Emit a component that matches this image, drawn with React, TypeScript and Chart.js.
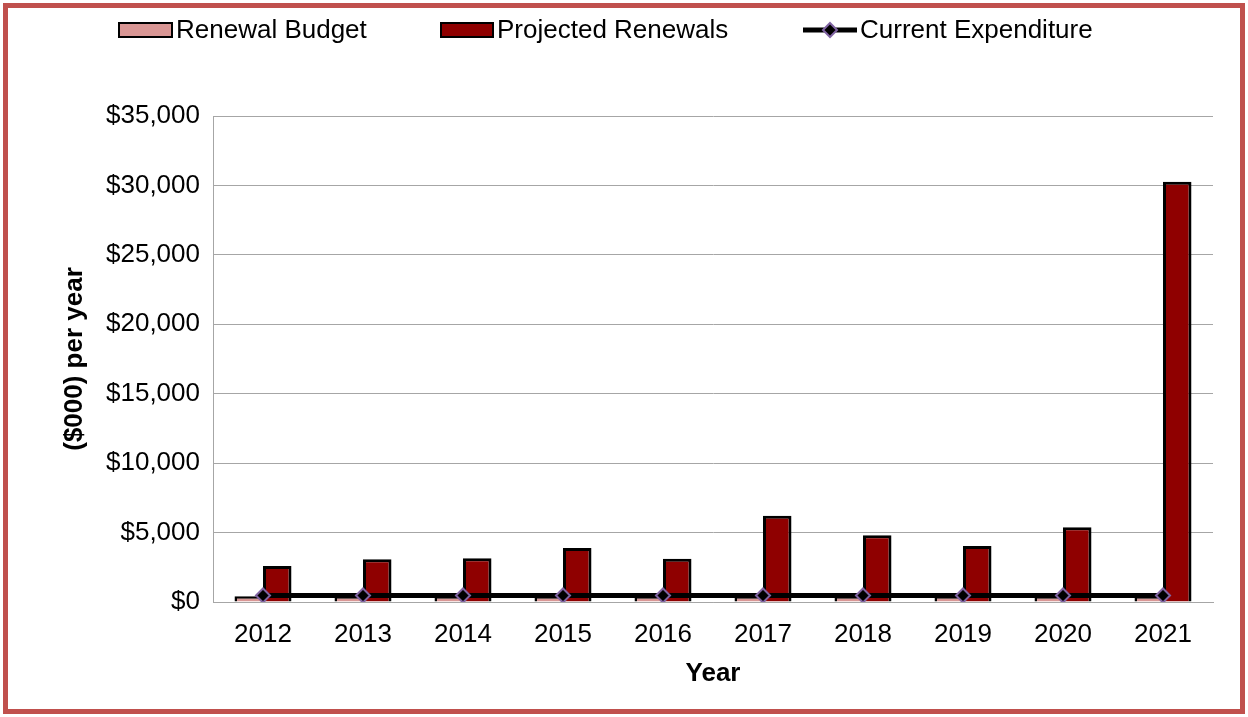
import React, { useEffect, useRef } from "react";
import { Chart, registerables } from "chart.js";

Chart.register(...registerables);

const years = ["2012", "2013", "2014", "2015", "2016", "2017", "2018", "2019", "2020", "2021"];
const renewalBudget = [420, 420, 420, 420, 420, 420, 420, 420, 420, 420];
const projectedRenewals = [2600, 3080, 3150, 3890, 3120, 6220, 4800, 4030, 5380, 30270];
const currentExpenditure = [470, 470, 470, 470, 470, 470, 470, 470, 470, 470];
const yMax = 35000;
const yStep = 5000;

const legendLabels = ["Renewal Budget", "Projected Renewals", "Current Expenditure"];

const FONT = "'Liberation Sans', Arial, sans-serif";
const PINK = "#D99694";
const DARK_RED = "#8F0000";
const PURPLE = "#8064A2";
const GRID = "#A6A6A6";

const framePlugin = {
  id: "frame",
  beforeDraw(chart: any) {
    const ctx = chart.ctx;
    ctx.save();
    ctx.fillStyle = "#ffffff";
    ctx.fillRect(0, 0, chart.width, chart.height);
    ctx.restore();
  },
  afterDraw(chart: any) {
    const ctx = chart.ctx;
    ctx.save();
    ctx.strokeStyle = "#C0504D";
    ctx.lineWidth = 5;
    ctx.strokeRect(5.5, 5.5, chart.width - 11, chart.height - 11);

    // legend
    ctx.font = `26px ${FONT}`;
    ctx.textBaseline = "middle";
    ctx.fillStyle = "#000";
    const ly = 31;
    // item 1
    ctx.fillStyle = PINK;
    ctx.fillRect(119, 23, 53, 14);
    ctx.strokeStyle = "#000";
    ctx.lineWidth = 2;
    ctx.strokeRect(119, 23, 53, 14);
    ctx.fillStyle = "#000";
    ctx.fillText(legendLabels[0], 176, ly);
    // item 2
    ctx.fillStyle = DARK_RED;
    ctx.fillRect(441, 23, 52, 14);
    ctx.strokeRect(441, 23, 52, 14);
    ctx.fillStyle = "#000";
    ctx.fillText(legendLabels[1], 497, ly);
    // item 3
    const my = 30;
    ctx.beginPath();
    ctx.lineWidth = 5;
    ctx.moveTo(803, my);
    ctx.lineTo(857, my);
    ctx.stroke();
    ctx.beginPath();
    ctx.moveTo(830, my - 7);
    ctx.lineTo(837, my);
    ctx.lineTo(830, my + 7);
    ctx.lineTo(823, my);
    ctx.closePath();
    ctx.fillStyle = "#000";
    ctx.fill();
    ctx.lineWidth = 2;
    ctx.strokeStyle = PURPLE;
    ctx.stroke();
    ctx.fillStyle = "#000";
    ctx.fillText(legendLabels[2], 860, ly);
    ctx.restore();
  },
};

export default function App() {
  const ref = useRef<HTMLCanvasElement | null>(null);

  useEffect(() => {
    if (!ref.current) return;
    const chart = new Chart(ref.current, {
      type: "bar",
      data: {
        labels: years,
        datasets: [
          {
            type: "line",
            label: legendLabels[2],
            data: currentExpenditure,
            borderColor: "#000",
            borderWidth: 5,
            pointStyle: "rectRot",
            pointRadius: 7,
            pointBackgroundColor: "#000",
            pointBorderColor: PURPLE,
            pointBorderWidth: 2,
            order: 0,
          } as any,
          {
            type: "bar",
            label: legendLabels[0],
            data: renewalBudget,
            backgroundColor: PINK,
            borderColor: "#000",
            borderWidth: 2.5,
            order: 1,
          },
          {
            type: "bar",
            label: legendLabels[1],
            data: projectedRenewals,
            backgroundColor: DARK_RED,
            borderColor: "#000",
            borderWidth: 3,
            order: 1,
          },
        ],
      },
      options: {
        animation: false,
        responsive: false,
        maintainAspectRatio: false,
        layout: { padding: { left: 0, right: 35, top: 116, bottom: 0 } },
        datasets: {
          bar: { categoryPercentage: 0.57, barPercentage: 1.0, grouped: true },
        },
        plugins: {
          legend: { display: false },
          tooltip: { enabled: false },
        },
        scales: {
          x: {
            grid: { display: false, drawTicks: false },
            border: { display: true, color: GRID, width: 1 },
            ticks: {
              color: "#000",
              font: { family: FONT, size: 26 },
              padding: 17,
              maxRotation: 0,
            },
            title: {
              display: true,
              text: "Year",
              color: "#000",
              font: { family: FONT, size: 26, weight: "bold" },
              padding: { top: 0, bottom: 28 },
            },
            afterFit(scale: any) {
              scale.height = 115;
            },
          },
          y: {
            min: 0,
            max: yMax,
            grid: { color: GRID, lineWidth: 1, drawTicks: false },
            border: { display: true, color: GRID, width: 1 },
            ticks: {
              stepSize: yStep,
              color: "#000",
              font: { family: FONT, size: 26 },
              padding: 13,
              callback: (v: any) => "$" + Number(v).toLocaleString("en-US"),
            },
            title: {
              display: true,
              text: "($000) per year",
              color: "#000",
              font: { family: FONT, size: 26, weight: "bold" },
              padding: { top: 59, bottom: 0 },
            },
            afterFit(scale: any) {
              scale.width = 213;
            },
          },
        },
      },
      plugins: [framePlugin],
    });
    return () => chart.destroy();
  }, []);

  return (
    <div style={{ position: "fixed", left: 0, top: 0, width: 1248, height: 717 }}>
      <canvas ref={ref} width={1248} height={717} style={{ display: "block" }} />
    </div>
  );
}
